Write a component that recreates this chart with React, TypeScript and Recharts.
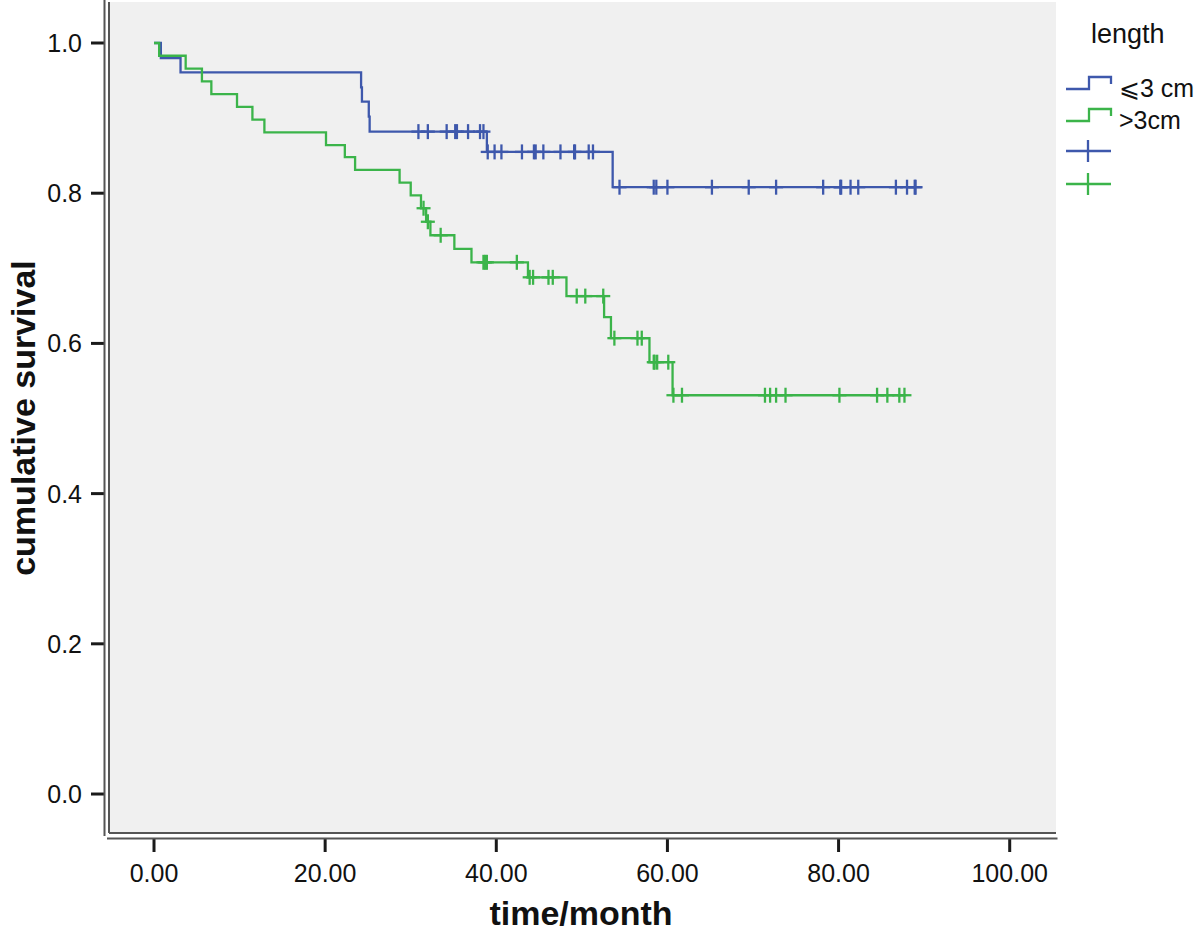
import React from 'react';
import { ComposedChart, Line, Scatter, XAxis, YAxis, CartesianGrid } from 'recharts';

// Kaplan-Meier curves by tumour length

const groupNames = ['⩽3 cm', '>3cm'];
const groupColors = ['#3e58ac', '#3bb44a'];

// <=3 cm: event times (months) and survival after each event
const shortEventT = [0, 0.8, 3.1, 24.2, 24.3, 25.1, 25.2, 38.9, 53.6];
const shortEventS = [1.0, 0.980, 0.961, 0.941, 0.922, 0.902, 0.882, 0.855, 0.808];
const shortCensorT = [
  30.9, 32.0, 34.2, 35.2, 35.4, 36.7, 38.1, 38.5,
  39.0, 39.8, 40.6, 43.0, 44.4, 44.6, 45.5, 47.5, 49.1, 49.2, 50.8, 51.3,
  54.4, 58.4, 58.7, 60.0, 65.2, 69.5, 72.7, 78.2, 80.2, 80.3, 81.4, 82.3, 86.7, 88.0, 88.9, 89.0,
];

// >3 cm
const longEventT = [
  0, 0.6, 3.7, 5.6, 6.7, 9.7, 11.5, 12.9, 20.1, 22.3, 23.5, 28.7, 30.0,
  31.2, 31.8, 32.3, 35.1, 37.1, 43.7, 48.2, 52.6, 53.4, 57.9, 60.6,
];
const longEventS = [
  1.0, 0.983, 0.966, 0.949, 0.932, 0.915, 0.898, 0.881, 0.864, 0.848, 0.831, 0.814, 0.797,
  0.780, 0.762, 0.744, 0.726, 0.708, 0.688, 0.663, 0.635, 0.607, 0.575, 0.531,
];
const longCensorT = [
  31.5, 32.0, 33.5, 38.5, 38.7, 38.9, 42.4, 43.9, 44.3, 46.1, 46.6, 49.4, 50.4, 52.5,
  53.8, 56.5, 57.0, 58.4, 58.5, 58.8, 60.1, 60.7, 61.7, 71.4, 72.0, 72.7, 73.8,
  80.1, 84.5, 85.7, 87.1, 87.7,
];

const xTicks = [0, 20, 40, 60, 80, 100];
const yTicks = [0, 0.2, 0.4, 0.6, 0.8, 1.0];

const W = 1200;
const H = 931;
const PLOT = { left: 109, top: 2, right: 1056, bottom: 833 };
const FONT = '"Liberation Sans", Arial, Helvetica, sans-serif';
const LINE_W = 2.3;

// survival at time t = value after the last event at or before t
function survAt(ts: number[], ss: number[], t: number) {
  let s = ss[0];
  for (let i = 0; i < ts.length; i++) if (ts[i] <= t) s = ss[i];
  return s;
}

function buildCurve(ts: number[], ss: number[], censor: number[]) {
  const pts = ts.map((t, i) => ({ t, s: ss[i] }));
  const last = Math.max(...censor, ts[ts.length - 1]);
  pts.push({ t: last, s: ss[ss.length - 1] });
  return pts;
}

function buildCensor(ts: number[], ss: number[], censor: number[]) {
  return censor.map(t => ({ t, s: survAt(ts, ss, t) }));
}

const curves = [
  buildCurve(shortEventT, shortEventS, shortCensorT),
  buildCurve(longEventT, longEventS, longCensorT),
];
const censors = [
  buildCensor(shortEventT, shortEventS, shortCensorT),
  buildCensor(longEventT, longEventS, longCensorT),
];

const plusShape = (color: string) => (props: any) => {
  const { cx, cy } = props;
  return (
    <g>
      <line x1={cx - 7} x2={cx + 7} y1={cy} y2={cy} stroke={color} strokeWidth={LINE_W} />
      <line x1={cx} x2={cx} y1={cy - 7.5} y2={cy + 7.5} stroke={color} strokeWidth={LINE_W} />
    </g>
  );
};

const XTick = ({ x, y, payload }: any) => (
  <g>
    <line x1={x} x2={x} y1={y + 5} y2={y + 19} stroke="#1a1a1a" strokeWidth={3} />
    <text x={x} y={y + 49} textAnchor="middle" fontSize={25} fontFamily={FONT} fill="#111">
      {Number(payload.value).toFixed(2)}
    </text>
  </g>
);

const YTick = ({ x, y, payload }: any) => (
  <g>
    <line x1={x - 18} x2={x - 5} y1={y} y2={y} stroke="#1a1a1a" strokeWidth={3} />
    <text x={x - 27} y={y + 9} textAnchor="end" fontSize={25} fontFamily={FONT} fill="#111">
      {Number(payload.value).toFixed(1)}
    </text>
  </g>
);

function Overlay() {
  return (
    <svg width={W} height={H} style={{ position: 'absolute', left: 0, top: 0, pointerEvents: 'none' }}>
      {/* outer frame lines (SPSS double border) */}
      <line x1={104.5} x2={104.5} y1={0} y2={836} stroke="#555" strokeWidth={2} />
      <line x1={107} x2={1057.5} y1={838.5} y2={838.5} stroke="#555" strokeWidth={2} />

      <text x={581} y={925} textAnchor="middle" fontSize={34} fontWeight="bold" fontFamily={FONT} fill="#111">
        time/month
      </text>
      <text
        x={35}
        y={418}
        transform="rotate(-90 35 418)"
        textAnchor="middle"
        fontSize={34}
        fontWeight="bold"
        fontFamily={FONT}
        fill="#111"
      >
        cumulative survival
      </text>

      {/* legend */}
      <text x={1091} y={43} fontSize={27} fontFamily={FONT} fill="#111">length</text>
      {groupNames.map((name, i) => {
        const yb = 89 + i * 32;
        return (
          <g key={name}>
            <path
              d={`M1066,${yb} H1089 V${yb - 12} H1111 V${yb - 5}`}
              fill="none"
              stroke={groupColors[i]}
              strokeWidth={LINE_W}
            />
            <text x={1119} y={yb + 8} fontSize={25} fontFamily={FONT} fill="#111">{name}</text>
          </g>
        );
      })}
      {groupColors.map((c, i) => {
        const yc = 151 + i * 33;
        return (
          <g key={c}>
            <line x1={1066} x2={1111} y1={yc} y2={yc} stroke={c} strokeWidth={LINE_W} />
            <line x1={1088} x2={1088} y1={yc - 11} y2={yc + 11} stroke={c} strokeWidth={LINE_W} />
          </g>
        );
      })}
    </svg>
  );
}

export default function App() {
  return (
    <div style={{ position: 'absolute', left: 0, top: 0, width: W, height: H, background: '#fff' }}>
      <ComposedChart
        width={W}
        height={H}
        margin={{ top: PLOT.top, right: W - PLOT.right, left: 0, bottom: 0 }}
      >
        <CartesianGrid fill="#f0f0f0" stroke="none" horizontal={false} vertical={false} />
        <XAxis
          type="number"
          dataKey="t"
          domain={[-5.26, 105.41]}
          ticks={xTicks}
          allowDataOverflow
          height={H - PLOT.bottom}
          tickSize={0}
          tickMargin={0}
          tickLine={false}
          axisLine={{ stroke: '#555', strokeWidth: 2 }}
          tick={<XTick />}
        />
        <YAxis
          type="number"
          dataKey="s"
          domain={[-0.0519, 1.0546]}
          ticks={yTicks}
          allowDataOverflow
          width={PLOT.left}
          tickSize={0}
          tickMargin={0}
          tickLine={false}
          axisLine={{ stroke: '#555', strokeWidth: 2 }}
          tick={<YTick />}
        />
        {curves.map((data, i) => (
          <Line
            key={`curve-${i}`}
            data={data}
            dataKey="s"
            type="stepAfter"
            stroke={groupColors[i]}
            strokeWidth={LINE_W}
            dot={false}
            activeDot={false}
            isAnimationActive={false}
          />
        ))}
        {censors.map((data, i) => (
          <Scatter
            key={`censor-${i}`}
            data={data}
            dataKey="s"
            shape={plusShape(groupColors[i])}
            isAnimationActive={false}
          />
        ))}
      </ComposedChart>
      <Overlay />
    </div>
  );
}
